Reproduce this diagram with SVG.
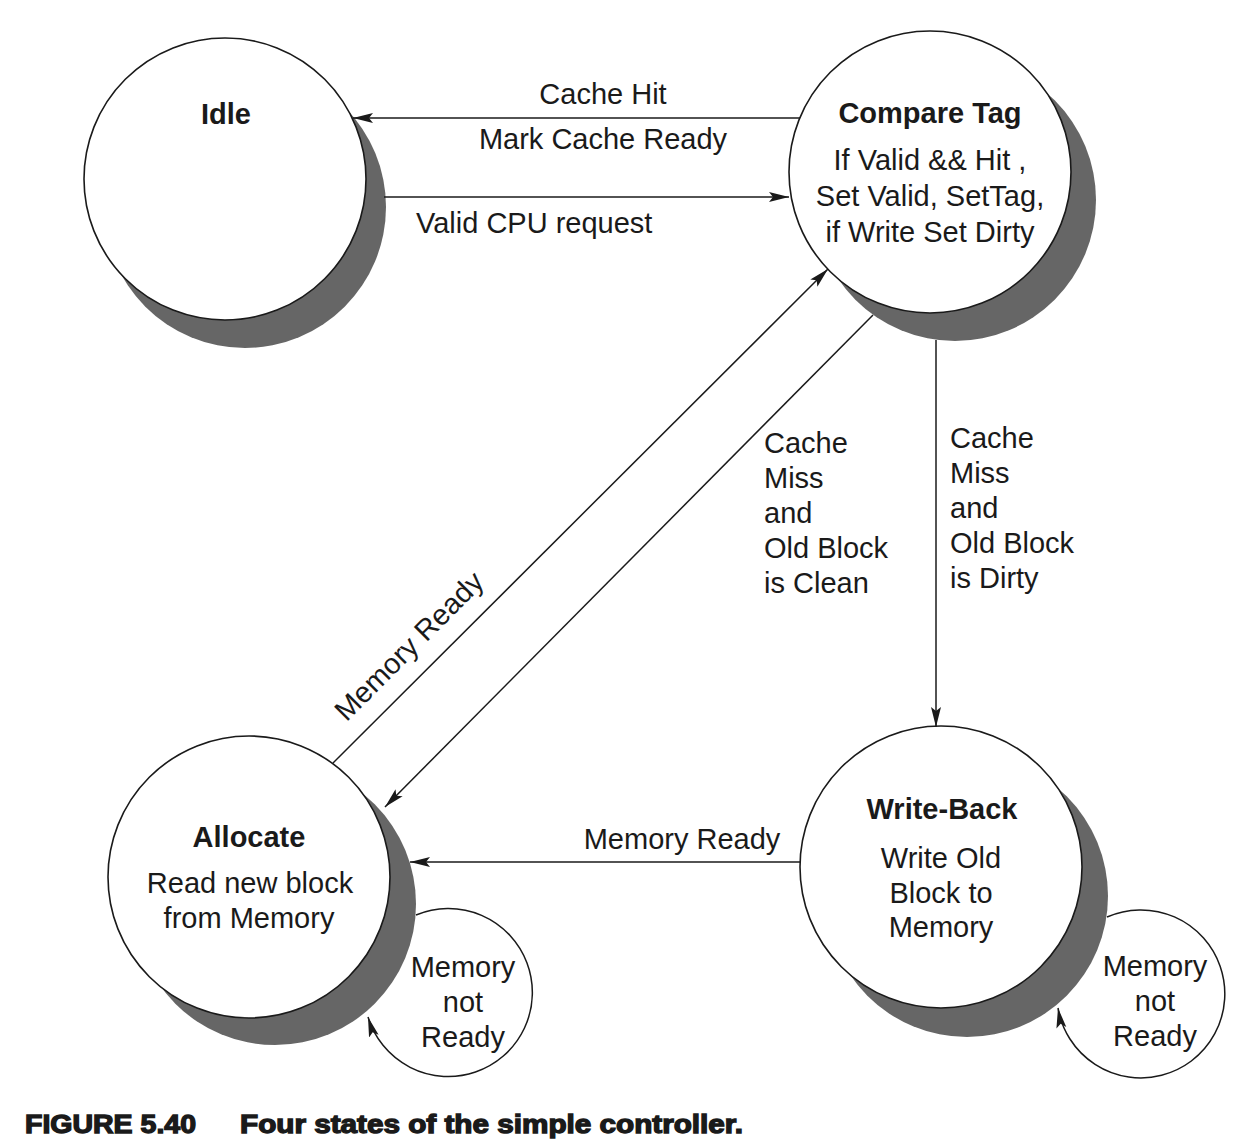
<svg xmlns="http://www.w3.org/2000/svg" width="1256" height="1142" viewBox="0 0 1256 1142">
<style>
.bg{fill:#ffffff}
.shadow{fill:#666666;stroke:none}
.state{fill:#ffffff;stroke:#1a1a1a;stroke-width:1.6}
.edge{fill:none;stroke:#1a1a1a;stroke-width:1.5}
.t{font-family:"Liberation Sans",Arial,Helvetica,sans-serif;font-size:29px;fill:#1a1a1a}
.b{font-weight:bold}
.m{text-anchor:middle}
.cap{font-family:"Liberation Sans",Arial,Helvetica,sans-serif;font-size:25px;font-weight:900;fill:#1a1a1a;stroke:#1a1a1a;stroke-width:1.3}
</style>
<defs>
<marker id="arr" viewBox="0 -6 20 12" refX="20" refY="0" markerWidth="20" markerHeight="12" markerUnits="userSpaceOnUse" orient="auto">
<path d="M0,-5 L20,0 L0,5 L4,0 Z" fill="#1a1a1a"/>
</marker>
</defs>
<rect class="bg" x="0" y="0" width="1256" height="1142"/>

<g id="idle">
<circle class="shadow" cx="245" cy="207" r="141"/>
<circle class="state" cx="225" cy="179" r="141"/>
<text class="t b m" x="226" y="124">Idle</text>
</g>

<g id="compare-tag">
<circle class="shadow" cx="955" cy="200" r="141"/>
<circle class="state" cx="930" cy="172" r="141"/>
<text class="t b m" x="930" y="123">Compare Tag</text>
<text class="t m" x="930" y="170">If Valid &amp;&amp; Hit ,</text>
<text class="t m" x="930" y="206">Set Valid, SetTag,</text>
<text class="t m" x="930" y="242">if Write Set Dirty</text>
</g>

<g id="allocate">
<circle class="shadow" cx="275" cy="904" r="141"/>
<circle class="state" cx="249" cy="877" r="141"/>
<text class="t b m" x="249" y="847">Allocate</text>
<text class="t m" x="250" y="893">Read new block</text>
<text class="t m" x="249" y="928">from Memory</text>
</g>

<g id="write-back">
<circle class="shadow" cx="967" cy="896" r="141"/>
<circle class="state" cx="941" cy="867" r="141"/>
<text class="t b m" x="942" y="819">Write-Back</text>
<text class="t m" x="941" y="868">Write Old</text>
<text class="t m" x="941" y="903">Block to</text>
<text class="t m" x="941" y="937">Memory</text>
</g>

<g id="connectors">
<line class="edge" x1="800" y1="118" x2="353" y2="118" marker-end="url(#arr)"/>
<line class="edge" x1="384" y1="197" x2="789" y2="197" marker-end="url(#arr)"/>
<line class="edge" x1="333" y1="763" x2="828" y2="269" marker-end="url(#arr)"/>
<line class="edge" x1="873" y1="315" x2="385" y2="807" marker-end="url(#arr)"/>
<line class="edge" x1="936" y1="340" x2="936" y2="727" marker-end="url(#arr)"/>
<line class="edge" x1="800" y1="862" x2="410" y2="862" marker-end="url(#arr)"/>
<path class="edge" d="M416,915 A84,84 0 1 1 368,1017" marker-end="url(#arr)"/>
<path class="edge" d="M1107,917 A84,84 0 1 1 1058,1008" marker-end="url(#arr)"/>

<text class="t m" x="603" y="104">Cache Hit</text>
<text class="t m" x="603" y="149">Mark Cache Ready</text>
<text class="t" x="416" y="233">Valid CPU request</text>
<text class="t m" x="416" y="653" transform="rotate(-45 416 653)">Memory Ready</text>
<text class="t" x="764" y="453">Cache</text>
<text class="t" x="764" y="488">Miss</text>
<text class="t" x="764" y="523">and</text>
<text class="t" x="764" y="558">Old Block</text>
<text class="t" x="764" y="593">is Clean</text>
<text class="t" x="950" y="448">Cache</text>
<text class="t" x="950" y="483">Miss</text>
<text class="t" x="950" y="518">and</text>
<text class="t" x="950" y="553">Old Block</text>
<text class="t" x="950" y="588">is Dirty</text>
<text class="t m" x="682" y="849">Memory Ready</text>
<text class="t m" x="463" y="977">Memory</text>
<text class="t m" x="463" y="1012">not</text>
<text class="t m" x="463" y="1047">Ready</text>
<text class="t m" x="1155" y="976">Memory</text>
<text class="t m" x="1155" y="1011">not</text>
<text class="t m" x="1155" y="1046">Ready</text>
</g>

<text class="cap" x="25" y="1133" textLength="171" lengthAdjust="spacingAndGlyphs">FIGURE 5.40</text>
<text class="cap" x="240" y="1133" textLength="503" lengthAdjust="spacingAndGlyphs">Four states of the simple controller.</text>
</svg>
